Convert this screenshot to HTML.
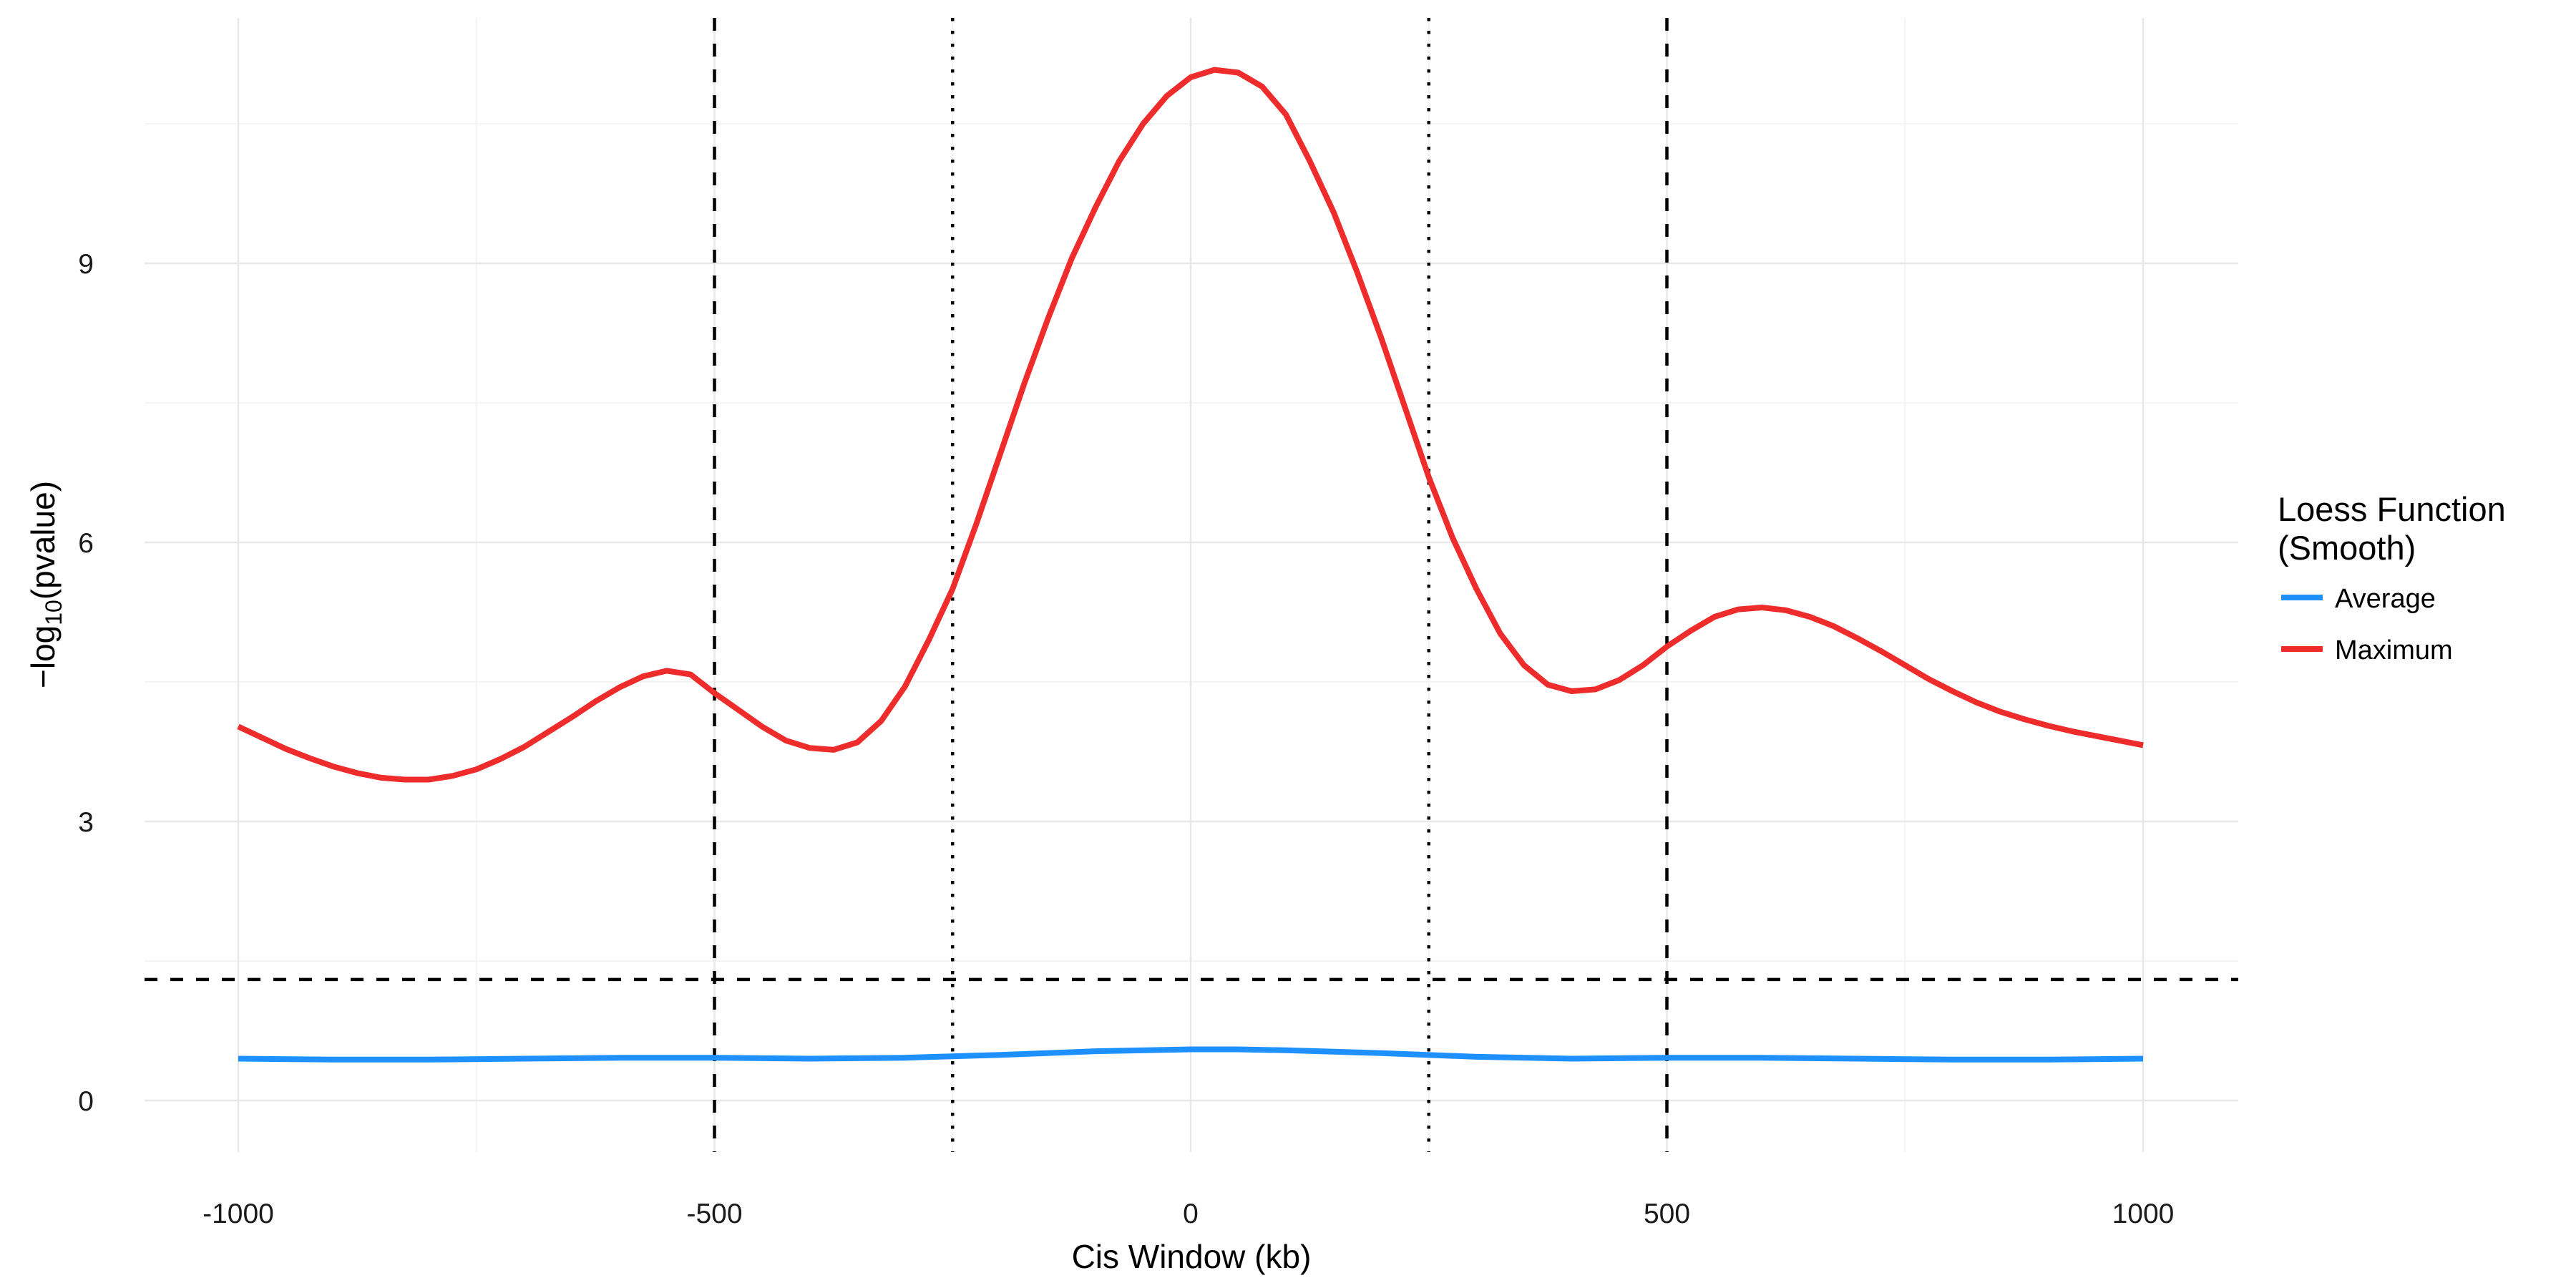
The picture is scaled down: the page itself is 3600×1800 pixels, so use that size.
<!DOCTYPE html>
<html>
<head>
<meta charset="utf-8">
<style>
  html, body { margin:0; padding:0; background:#fff; }
  svg { display:block; font-family:"Liberation Sans", Arial, sans-serif; }
</style>
</head>
<body>
<svg id="chart" width="3600" height="1800" viewBox="0 0 3600 1800" xmlns="http://www.w3.org/2000/svg">
  <rect x="0" y="0" width="3600" height="1800" fill="#ffffff"/>
  <g id="grid"></g>
  <g id="refs"></g>
  <g id="series"></g>
  <g id="axes"></g>
  <text x="1665" y="1772" font-size="46" text-anchor="middle" fill="#000">Cis Window (kb)</text>
  <text transform="translate(76,817) rotate(-90)" font-size="46" text-anchor="middle" fill="#000">−log<tspan font-size="32" dy="10">10</tspan><tspan dy="-10">(pvalue)</tspan></text>
  <g>
    <text x="3183" y="728" font-size="47" fill="#000">Loess Function</text>
    <text x="3183" y="782" font-size="47" fill="#000">(Smooth)</text>
    <g>
      <line x1="3188" y1="835" x2="3246" y2="835" stroke="#1e90ff" stroke-width="8"/>
      <text x="3263" y="849" font-size="38" fill="#000">Average</text>
    </g>
    <g>
      <line x1="3188" y1="907" x2="3246" y2="907" stroke="#ee2c2c" stroke-width="8"/>
      <text x="3263" y="921" font-size="38" fill="#000">Maximum</text>
    </g>
  </g>
</svg>
<script>
const xTicks = [-1000, -500, 0, 500, 1000];
const xMinor = [-750, -250, 250, 750];
const yTicks = [0, 3, 6, 9];
const yMinor = [1.5, 4.5, 7.5, 10.5];
const maxX = [-1000,-975,-950,-925,-900,-875,-850,-825,-800,-775,-750,-725,-700,-675,-650,-625,-600,-575,-550,-525,-500,-475,-450,-425,-400,-375,-350,-325,-300,-275,-250,-225,-200,-175,-150,-125,-100,-75,-50,-25,0,25,50,75,100,125,150,175,200,225,250,275,300,325,350,375,400,425,450,475,500,525,550,575,600,625,650,675,700,725,750,775,800,825,850,875,900,925,950,975,1000];
const maxY = [4.02,3.9,3.78,3.68,3.59,3.52,3.47,3.45,3.45,3.49,3.56,3.67,3.8,3.96,4.12,4.29,4.44,4.56,4.62,4.58,4.38,4.2,4.02,3.87,3.79,3.77,3.85,4.08,4.45,4.95,5.5,6.2,6.95,7.7,8.4,9.05,9.6,10.1,10.5,10.8,11.0,11.08,11.05,10.9,10.6,10.1,9.55,8.9,8.2,7.45,6.7,6.05,5.5,5.02,4.68,4.47,4.4,4.42,4.52,4.68,4.88,5.05,5.2,5.28,5.3,5.27,5.2,5.1,4.97,4.83,4.68,4.53,4.4,4.28,4.18,4.1,4.03,3.97,3.92,3.87,3.82];
const avgX = [-1000,-900,-800,-700,-600,-500,-400,-300,-200,-100,0,50,100,200,300,400,500,600,700,800,900,1000];
const avgY = [0.45,0.44,0.44,0.45,0.46,0.46,0.45,0.46,0.49,0.53,0.55,0.55,0.54,0.51,0.47,0.45,0.46,0.46,0.45,0.44,0.44,0.45];
const vDashed = [-500, 500];
const vDotted = [-250, 250];
const hDashed = [1.30103];

const NS = 'http://www.w3.org/2000/svg';
const PL = 202, PR = 3128, PT = 25, PB = 1610;
function sx(v){ return 1664 + v * (2995 - 1664) / 1000; }
function sy(v){ return 1538 - v * 130; }
function mk(tag, attrs, parent){
  const el = document.createElementNS(NS, tag);
  for (const k in attrs) el.setAttribute(k, attrs[k]);
  parent.appendChild(el);
  return el;
}
const grid = document.getElementById('grid');
const refs = document.getElementById('refs');
const series = document.getElementById('series');
const axes = document.getElementById('axes');

xMinor.forEach(v => {
  const l = mk('line', {x1:sx(v), x2:sx(v), y1:PT, y2:PB, stroke:'#f4f4f4', 'stroke-width':2}, grid);
  
  
});
yMinor.forEach(v => {
  const l = mk('line', {x1:PL, x2:PR, y1:sy(v), y2:sy(v), stroke:'#f4f4f4', 'stroke-width':2}, grid);
  
  
});
xTicks.forEach(v => {
  const l = mk('line', {x1:sx(v), x2:sx(v), y1:PT, y2:PB, stroke:'#e8e8e8', 'stroke-width':2.5}, grid);
  
  
  const t = mk('text', {x:sx(v), y:1709, 'font-size':39, 'text-anchor':'middle', fill:'#1a1a1a'}, axes);
  t.textContent = v;
  
  
});
yTicks.forEach(v => {
  const l = mk('line', {x1:PL, x2:PR, y1:sy(v), y2:sy(v), stroke:'#e8e8e8', 'stroke-width':2.5}, grid);
  
  
  const t = mk('text', {x:131, y:sy(v)+14, 'font-size':39, 'text-anchor':'end', fill:'#1a1a1a'}, axes);
  t.textContent = v;
  
  
});

vDashed.forEach(v => {
  const l = mk('line', {x1:sx(v), x2:sx(v), y1:PT, y2:PB, stroke:'#000', 'stroke-width':4.5, 'stroke-dasharray':'18 18'}, refs);
  
  
});
vDotted.forEach(v => {
  const l = mk('line', {x1:sx(v), x2:sx(v), y1:PT, y2:PB, stroke:'#000', 'stroke-width':4.5, 'stroke-dasharray':'4.5 13.5'}, refs);
  
  
});
hDashed.forEach(v => {
  const l = mk('line', {x1:PL, x2:PR, y1:sy(v), y2:sy(v), stroke:'#000', 'stroke-width':4.5, 'stroke-dasharray':'18 18'}, refs);
  
  
});

function path(xs, ys){ return xs.map((x,i) => (i ? 'L' : 'M') + sx(x).toFixed(1) + ',' + sy(ys[i]).toFixed(1)).join(' '); }
const pa = mk('path', {d:path(avgX, avgY), fill:'none', stroke:'#1e90ff', 'stroke-width':8, 'stroke-linejoin':'round'}, series);


const pm = mk('path', {d:path(maxX, maxY), fill:'none', stroke:'#ee2c2c', 'stroke-width':8, 'stroke-linejoin':'round'}, series);


</script>
</body>
</html>
